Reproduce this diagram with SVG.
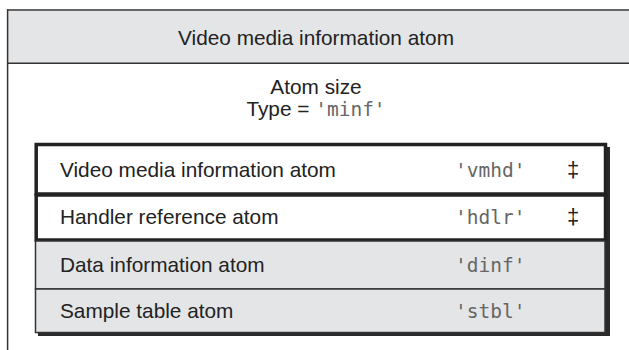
<svg xmlns="http://www.w3.org/2000/svg" width="629" height="350" viewBox="0 0 629 350">
<style>
.t{font-family:"Liberation Sans",Arial,sans-serif;font-size:20.8px;fill:#222}
.m{font-family:"DejaVu Sans Mono","Liberation Mono",monospace;font-size:19.5px;fill:#666}
.d{font-family:"Liberation Sans",sans-serif;font-size:22px;fill:#222}
.box{fill:#fff;stroke:#222;stroke-width:3.5}
.gray{fill:#e4e5e7}
</style>
<rect width="629" height="350" fill="#fff"/>
<g id="frame">
<rect x="7" y="10" width="622" height="53" class="gray"/>
<line x1="7" y1="10" x2="629" y2="10" stroke="#666" stroke-width="1.8"/>
<line x1="7" y1="63.3" x2="629" y2="63.3" stroke="#333" stroke-width="1.5"/>
<line x1="7.6" y1="9.2" x2="7.6" y2="350" stroke="#333" stroke-width="1.5"/>
<text class="t" x="316" y="45" text-anchor="middle">Video media information atom</text>
<text class="t" x="316" y="94" text-anchor="middle">Atom size</text>
<text class="t" x="316" y="116" text-anchor="middle">Type = <tspan class="m">'minf'</tspan></text>
</g>
<g id="shadow">
<rect x="38" y="147" width="572" height="189" fill="#2a2a2a"/>
</g>
<g id="vmhd">
<rect x="36.2" y="144.5" width="569.3" height="49.5" class="box"/>
<text class="t" x="60" y="177">Video media information atom</text>
<text class="m" x="455" y="177">'vmhd'</text>
<text class="d" x="573" y="177" text-anchor="middle">‡</text>
</g>
<g id="hdlr">
<rect x="36.2" y="195" width="569.3" height="45" class="box"/>
<text class="t" x="60" y="224">Handler reference atom</text>
<text class="m" x="455" y="224">'hdlr'</text>
<text class="d" x="573" y="224" text-anchor="middle">‡</text>
</g>
<g id="dinf">
<rect x="35.5" y="241" width="569.5" height="48" class="gray" stroke="#333" stroke-width="1.5"/>
<text class="t" x="60" y="272">Data information atom</text>
<text class="m" x="455" y="272">'dinf'</text>
</g>
<g id="stbl">
<rect x="35.5" y="289" width="569.5" height="43.5" class="gray" stroke="#333" stroke-width="1.5"/>
<text class="t" x="60" y="318">Sample table atom</text>
<text class="m" x="455" y="318">'stbl'</text>
</g>
</svg>
